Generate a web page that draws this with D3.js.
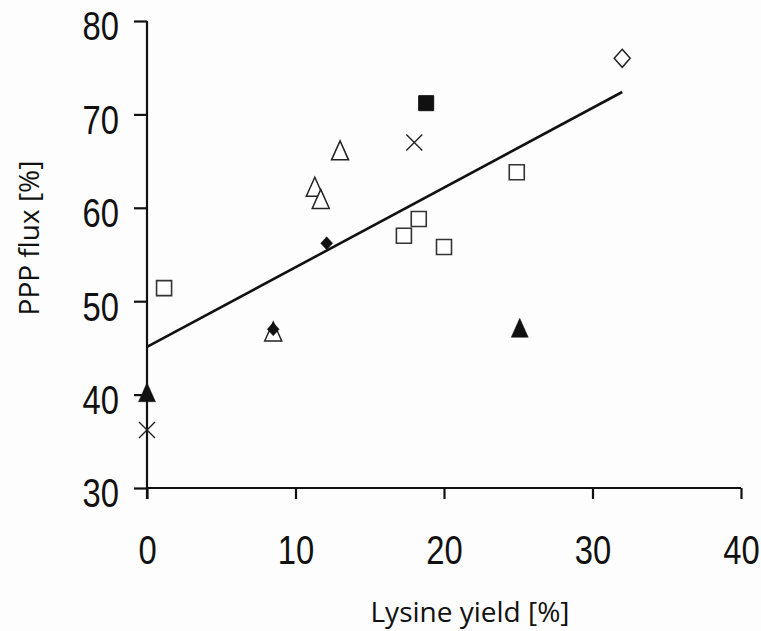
<!DOCTYPE html>
<html>
<head>
<meta charset="utf-8">
<script src="https://cdn.jsdelivr.net/npm/d3@7"></script>
<style>
  body { margin: 0; background: #fdfdfd; }
  .axis path, .axis line { stroke: #111; stroke-width: 2.2px; }
  .axis text { font-family: "Liberation Sans", Arial, sans-serif; font-size: 40px; fill: #111; }
  .title { font-family: "Open Sans", sans-serif; font-size: 28px; fill: #111; }
</style>
</head>
<body>
<div id="chart"></div>
<script>
// ticks
var xTicks = [0, 10, 20, 30, 40];
var yTicks = [30, 40, 50, 60, 70, 80];

// data points, grouped by marker
var openSquare = [[1.15, 51.4], [17.3, 57.0], [18.3, 58.8], [20.0, 55.8], [24.9, 63.8]];
var filledSquare = [[18.8, 71.2]];
var openTriangle = [[8.5, 46.7], [11.3, 62.2], [11.7, 60.9], [13.0, 66.1]];
var filledTriangle = [[0, 40.2], [25.1, 47.1]];
var crossMark = [[0, 36.2], [18.0, 67.0]];
var filledDiamond = [[8.5, 47.0], [12.1, 56.2]];
var openDiamond = [[32.0, 76.0]];

// fitted line end points
var trend = [[0, 45.1], [32.0, 72.4]];

var width = 761, height = 631;
var margin = {left: 147, top: 21, right: 20, bottom: 143};
var narrow = 0.82; // tick labels are a condensed face

var svg = d3.select("#chart").append("svg")
    .attr("width", width)
    .attr("height", height);

var x = d3.scaleLinear().domain([0, 40]).range([margin.left, width - margin.right]);
var y = d3.scaleLinear().domain([30, 80]).range([height - margin.bottom, margin.top]);

// axes
svg.append("g")
    .attr("class", "axis")
    .attr("transform", "translate(0," + y(30) + ")")
    .call(d3.axisBottom(x).tickValues(xTicks).tickSize(11).tickSizeOuter(0).tickPadding(37))
    .call(function(g) {
      g.select(".domain").attr("d", "M" + x(0) + ",0H" + x(40));
      g.selectAll(".tick text").attr("transform", "scale(" + narrow + ",1)");
    });

svg.append("g")
    .attr("class", "axis")
    .attr("transform", "translate(" + x(0) + ",0)")
    .call(d3.axisLeft(y).tickValues(yTicks).tickSize(13).tickSizeOuter(0).tickPadding(15))
    .call(function(g) {
      g.select(".domain").attr("d", "M0," + y(80) + "V" + (y(30) + 11));
      g.selectAll(".tick text")
        .attr("dy", "0.47em")
        .attr("x", -28 / narrow)
        .attr("transform", "scale(" + narrow + ",1)");
    });

// trend line
svg.append("path")
    .datum(trend)
    .attr("fill", "none")
    .attr("stroke", "#111")
    .attr("stroke-width", 2.6)
    .attr("d", d3.line().x(function(d) { return x(d[0]); }).y(function(d) { return y(d[1]); }));

// marker shapes
function shape(type) {
  if (type == "square") return "M-7.5,-7.5H7.5V7.5H-7.5Z";
  if (type == "triangle") return "M0,-10L8.5,9H-8.5Z";
  if (type == "diamond") return "M0,-9L8,0L0,9L-8,0Z";
  if (type == "smalldiamond") return "M0,-6.5L6,0L0,6.5L-6,0Z";
  if (type == "cross") return "M-8,-8L8,8M8,-8L-8,8";
}

function drawPoints(data, type, fill, stroke, sw) {
  svg.append("g").selectAll("path")
    .data(data).enter()
    .append("path")
      .attr("transform", function(d) { return "translate(" + x(d[0]) + "," + y(d[1]) + ")"; })
      .attr("d", shape(type))
      .attr("fill", fill)
      .attr("stroke", stroke)
      .attr("stroke-width", sw);
}

drawPoints(openSquare, "square", "#fff", "#333", 1.6);
drawPoints(filledSquare, "square", "#111", "#111", 1);
drawPoints(openTriangle, "triangle", "#fff", "#222", 1.5);
drawPoints(filledTriangle, "triangle", "#111", "#111", 0.5);
drawPoints(crossMark, "cross", "none", "#222", 1.4);
drawPoints(filledDiamond, "smalldiamond", "#111", "#111", 0.5);
drawPoints(openDiamond, "diamond", "#fff", "#222", 1.5);

// titles
svg.append("text")
    .attr("class", "title")
    .attr("x", 470)
    .attr("y", 622)
    .attr("text-anchor", "middle")
    .text("Lysine yield [%]");

svg.append("text")
    .attr("class", "title")
    .attr("transform", "translate(39,238) rotate(-90)")
    .attr("text-anchor", "middle")
    .text("PPP flux [%]");
</script>
</body>
</html>
